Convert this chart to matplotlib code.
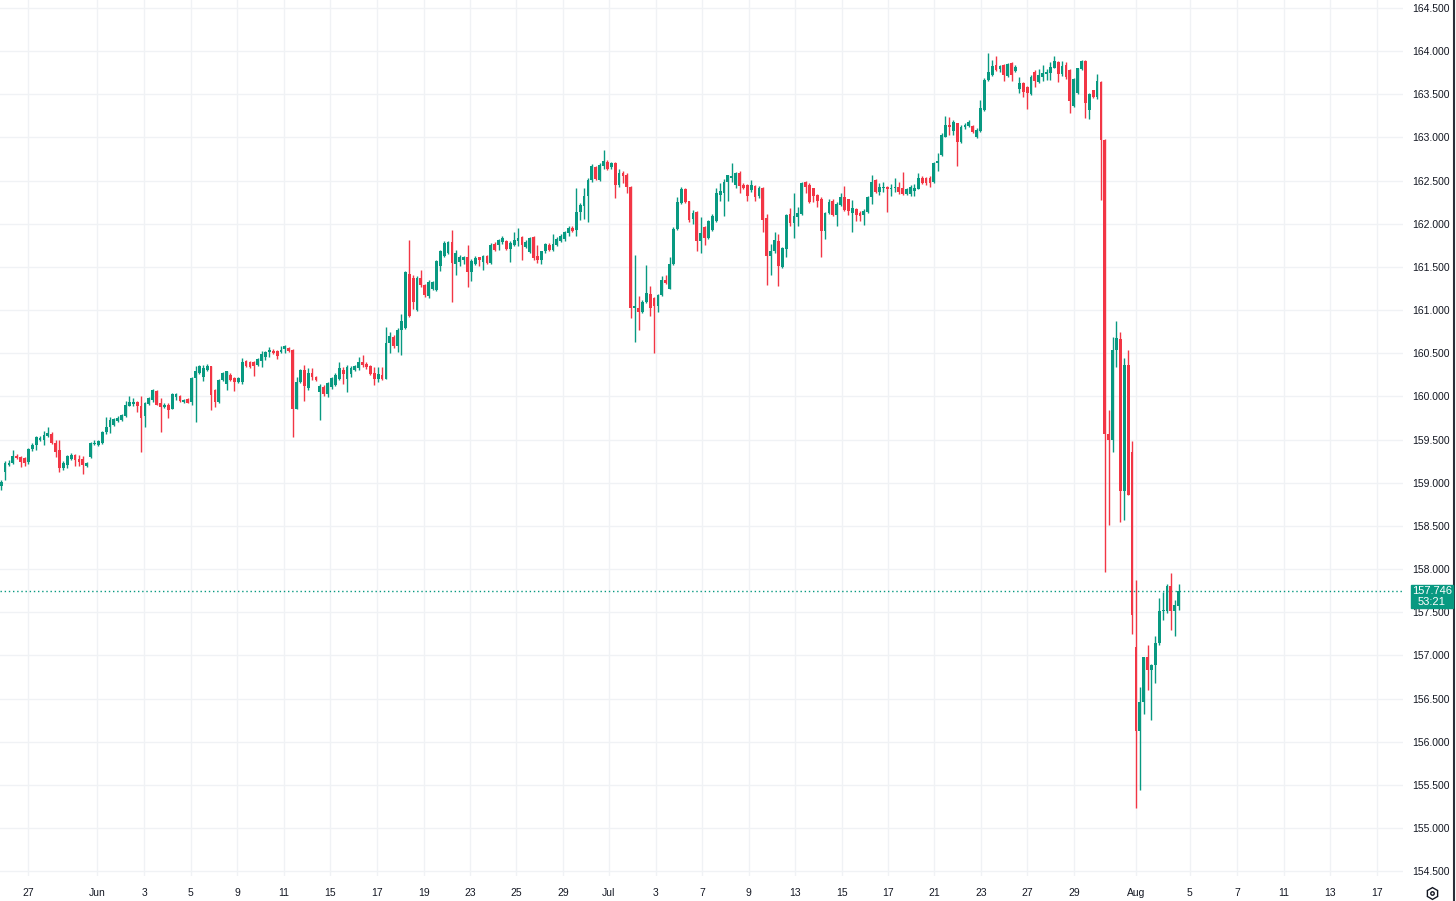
import numpy as np
import matplotlib.pyplot as plt
from matplotlib.lines import Line2D
from matplotlib.patches import Rectangle

plt.rcParams['font.family'] = ['Liberation Sans', 'DejaVu Sans']

# 4h candles
opens = [
    158.96, 159.12, 159.21, 159.23, 159.31, 159.30, 159.29, 159.24, 159.39, 159.44,
    159.50, 159.50, 159.54, 159.57, 159.46, 159.38, 159.17, 159.21, 159.28, 159.32,
    159.28, 159.28, 159.20, 159.30, 159.45, 159.44, 159.46, 159.59, 159.65, 159.67,
    159.72, 159.73, 159.77, 159.89, 159.91, 159.94, 159.89, 159.77, 159.91, 159.96,
    160.06, 159.92, 159.88, 159.90, 159.86, 159.99, 160.01, 159.94, 159.97, 159.94,
    160.21, 160.27, 160.22, 160.31, 160.35, 160.07, 159.94, 160.19, 160.15, 160.25,
    160.21, 160.17, 160.17, 160.41, 160.40, 160.40, 160.36, 160.41, 160.46, 160.51,
    160.53, 160.53, 160.52, 160.55, 160.56, 160.54, 159.86, 160.17, 160.31, 160.10,
    160.27, 160.23, 160.05, 160.11, 160.03, 160.11, 160.13, 160.20, 160.31, 160.20,
    160.26, 160.31, 160.33, 160.40, 160.38, 160.35, 160.27, 160.20, 160.25, 160.20,
    160.62, 160.69, 160.59, 160.77, 160.79, 161.42, 161.37, 161.00, 161.37, 161.29,
    161.16, 161.24, 161.23, 161.51, 161.63, 161.66, 161.79, 161.53, 161.56, 161.58,
    161.62, 161.44, 161.54, 161.61, 161.56, 161.63, 161.55, 161.77, 161.75, 161.79,
    161.80, 161.71, 161.75, 161.80, 161.85, 161.73, 161.67, 161.85, 161.63, 161.58,
    161.68, 161.76, 161.70, 161.75, 161.80, 161.82, 161.89, 161.95, 161.93, 162.14,
    162.21, 162.32, 162.51, 162.66, 162.51, 162.67, 162.72, 162.66, 162.70, 162.45,
    162.59, 162.57, 162.43, 161.03, 161.03, 160.98, 161.10, 161.19, 161.14, 161.05,
    161.17, 161.35, 161.25, 161.53, 161.94, 162.24, 162.40, 162.26, 162.06, 162.14,
    161.80, 161.96, 161.84, 161.93, 162.03, 162.33, 162.36, 162.49, 162.53, 162.45,
    162.59, 162.45, 162.45, 162.39, 162.44, 162.32, 162.42, 162.07, 161.63, 161.68,
    161.80, 161.50, 161.71, 162.11, 162.01, 162.08, 162.11, 162.48, 162.45, 162.41,
    162.33, 162.29, 161.92, 162.12, 162.27, 162.10, 162.22, 162.31, 162.29, 162.13,
    162.17, 162.13, 162.10, 162.14, 162.31, 162.51, 162.37, 162.41, 162.43, 162.40,
    162.41, 162.43, 162.41, 162.34, 162.34, 162.38, 162.40, 162.53, 162.53, 162.53,
    162.48, 162.70, 162.80, 163.01, 163.15, 163.08, 163.17, 162.95, 163.12, 163.13,
    163.13, 163.01, 163.07, 163.32, 163.67, 163.72, 163.84, 163.79, 163.84, 163.71,
    163.86, 163.77, 163.56, 163.63, 163.59, 163.50, 163.76, 163.64, 163.70, 163.74,
    163.75, 163.81, 163.88, 163.74, 163.84, 163.78, 163.37, 163.51, 163.79, 163.89,
    163.32, 163.55, 163.47, 163.64, 162.97, 159.57, 159.50, 160.54, 160.67, 158.91,
    160.37, 159.36, 157.10, 156.12, 156.46, 156.98, 156.83, 156.89, 157.14, 157.51,
    157.51, 157.80, 157.52, 157.57,
]
highs = [
    159.03, 159.25, 159.26, 159.38, 159.33, 159.31, 159.30, 159.40, 159.46, 159.54,
    159.54, 159.60, 159.65, 159.59, 159.50, 159.50, 159.25, 159.32, 159.34, 159.33,
    159.32, 159.31, 159.24, 159.47, 159.50, 159.50, 159.60, 159.76, 159.76, 159.75,
    159.77, 159.80, 159.95, 160.00, 159.98, 159.95, 160.00, 159.94, 159.99, 160.09,
    160.07, 159.98, 159.92, 159.92, 160.04, 160.04, 160.02, 159.97, 159.98, 160.23,
    160.35, 160.37, 160.36, 160.38, 160.35, 160.09, 160.20, 160.28, 160.29, 160.27,
    160.23, 160.22, 160.44, 160.42, 160.41, 160.41, 160.44, 160.53, 160.53, 160.57,
    160.55, 160.54, 160.58, 160.60, 160.57, 160.55, 160.23, 160.32, 160.36, 160.33,
    160.33, 160.24, 160.15, 160.13, 160.17, 160.23, 160.27, 160.40, 160.34, 160.36,
    160.35, 160.37, 160.46, 160.48, 160.40, 160.36, 160.34, 160.34, 160.34, 160.80,
    160.75, 160.71, 160.79, 160.96, 161.45, 161.81, 161.41, 161.39, 161.47, 161.30,
    161.35, 161.34, 161.58, 161.70, 161.80, 161.80, 161.93, 161.70, 161.64, 161.63,
    161.75, 161.59, 161.63, 161.62, 161.64, 161.64, 161.78, 161.79, 161.83, 161.86,
    161.81, 161.80, 161.90, 161.95, 161.86, 161.81, 161.85, 161.86, 161.75, 161.69,
    161.78, 161.78, 161.88, 161.85, 161.88, 161.92, 161.98, 161.98, 162.42, 162.24,
    162.42, 162.53, 162.69, 162.67, 162.71, 162.85, 162.74, 162.72, 162.72, 162.63,
    162.61, 162.59, 162.44, 161.64, 161.16, 161.12, 161.52, 161.28, 161.15, 161.19,
    161.40, 161.41, 161.61, 161.96, 162.31, 162.43, 162.41, 162.27, 162.16, 162.15,
    162.08, 161.97, 162.04, 162.11, 162.41, 162.47, 162.52, 162.57, 162.70, 162.60,
    162.61, 162.47, 162.46, 162.51, 162.45, 162.44, 162.43, 162.11, 161.77, 161.90,
    161.88, 161.73, 162.11, 162.18, 162.36, 162.20, 162.49, 162.50, 162.47, 162.42,
    162.34, 162.31, 162.14, 162.29, 162.29, 162.25, 162.36, 162.44, 162.29, 162.28,
    162.18, 162.15, 162.17, 162.32, 162.57, 162.52, 162.47, 162.48, 162.44, 162.46,
    162.53, 162.49, 162.60, 162.41, 162.45, 162.46, 162.59, 162.55, 162.54, 162.55,
    162.72, 162.82, 163.05, 163.25, 163.24, 163.20, 163.17, 163.14, 163.17, 163.20,
    163.14, 163.11, 163.43, 163.69, 163.98, 163.90, 163.94, 163.84, 163.85, 163.86,
    163.87, 163.84, 163.70, 163.64, 163.60, 163.72, 163.78, 163.79, 163.84, 163.79,
    163.87, 163.94, 163.89, 163.89, 163.87, 163.79, 163.69, 163.81, 163.90, 163.90,
    163.52, 163.55, 163.74, 163.65, 162.98, 159.84, 160.69, 160.88, 160.75, 160.45,
    160.54, 159.49, 157.87, 156.64, 156.98, 157.12, 156.90, 157.22, 157.66, 157.74,
    157.83, 157.95, 157.64, 157.83,
]
lows = [
    158.92, 159.03, 159.19, 159.22, 159.28, 159.18, 159.19, 159.22, 159.37, 159.38,
    159.49, 159.44, 159.53, 159.45, 159.30, 159.12, 159.15, 159.17, 159.27, 159.19,
    159.19, 159.10, 159.18, 159.29, 159.44, 159.43, 159.45, 159.57, 159.58, 159.66,
    159.70, 159.72, 159.76, 159.89, 159.89, 159.82, 159.36, 159.65, 159.90, 159.94,
    159.90, 159.59, 159.87, 159.75, 159.85, 159.96, 159.94, 159.93, 159.92, 159.90,
    159.71, 160.26, 160.18, 160.29, 159.84, 159.88, 159.93, 160.18, 160.08, 160.18,
    160.06, 160.16, 160.15, 160.34, 160.33, 160.24, 160.35, 160.34, 160.42, 160.46,
    160.49, 160.43, 160.50, 160.50, 160.52, 159.53, 159.85, 160.16, 159.95, 160.08,
    160.19, 160.18, 159.73, 160.00, 159.99, 160.09, 160.12, 160.19, 160.15, 160.05,
    160.23, 160.30, 160.31, 160.34, 160.32, 160.25, 160.13, 160.17, 160.19, 160.20,
    160.50, 160.56, 160.52, 160.48, 160.78, 160.92, 161.01, 160.99, 161.27, 161.15,
    161.14, 161.23, 161.22, 161.45, 161.62, 161.65, 161.09, 161.41, 161.51, 161.54,
    161.27, 161.34, 161.52, 161.51, 161.47, 161.54, 161.54, 161.68, 161.70, 161.77,
    161.70, 161.56, 161.74, 161.74, 161.58, 161.72, 161.66, 161.58, 161.55, 161.54,
    161.66, 161.69, 161.69, 161.74, 161.79, 161.80, 161.86, 161.90, 161.86, 162.05,
    162.06, 162.02, 162.49, 162.51, 162.50, 162.64, 162.62, 162.64, 162.30, 162.43,
    162.47, 162.36, 160.91, 160.63, 160.77, 160.97, 161.08, 160.93, 160.50, 160.98,
    161.16, 161.30, 161.24, 161.52, 161.93, 162.23, 162.24, 162.02, 162.00, 161.68,
    161.66, 161.76, 161.83, 161.92, 162.02, 162.26, 162.09, 162.26, 162.49, 162.42,
    162.36, 162.40, 162.26, 162.37, 162.26, 162.30, 161.90, 161.29, 161.41, 161.66,
    161.28, 161.49, 161.62, 161.97, 161.84, 161.98, 162.10, 162.36, 162.24, 162.25,
    162.19, 161.61, 161.83, 162.11, 162.09, 161.98, 162.21, 162.15, 162.10, 161.90,
    162.03, 162.03, 161.99, 162.13, 162.23, 162.36, 162.33, 162.37, 162.14, 162.32,
    162.37, 162.34, 162.33, 162.33, 162.32, 162.32, 162.40, 162.46, 162.45, 162.43,
    162.47, 162.61, 162.79, 163.00, 163.03, 163.03, 162.67, 162.94, 163.10, 163.12,
    163.05, 162.99, 163.06, 163.31, 163.65, 163.71, 163.77, 163.76, 163.66, 163.70,
    163.65, 163.76, 163.52, 163.47, 163.33, 163.49, 163.59, 163.63, 163.66, 163.67,
    163.67, 163.80, 163.64, 163.71, 163.68, 163.28, 163.35, 163.50, 163.78, 163.23,
    163.22, 163.46, 163.45, 162.28, 157.97, 158.51, 159.36, 160.34, 158.55, 158.57,
    158.86, 157.25, 155.23, 155.44, 156.32, 156.60, 156.25, 156.68, 157.12, 157.41,
    157.49, 157.30, 157.22, 157.53,
]
closes = [
    159.01, 159.23, 159.23, 159.31, 159.29, 159.24, 159.23, 159.39, 159.44, 159.53,
    159.52, 159.55, 159.58, 159.46, 159.36, 159.17, 159.23, 159.31, 159.32, 159.26,
    159.24, 159.21, 159.23, 159.46, 159.46, 159.48, 159.59, 159.65, 159.73, 159.74,
    159.75, 159.79, 159.90, 159.94, 159.94, 159.89, 159.75, 159.92, 159.98, 160.07,
    159.90, 159.88, 159.90, 159.84, 160.03, 160.03, 159.95, 159.96, 159.93, 160.21,
    160.29, 160.35, 160.33, 160.35, 160.02, 159.94, 160.19, 160.27, 160.29, 160.19,
    160.17, 160.21, 160.40, 160.35, 160.34, 160.35, 160.43, 160.49, 160.52, 160.54,
    160.50, 160.47, 160.54, 160.58, 160.53, 159.86, 160.17, 160.31, 160.12, 160.27,
    160.23, 160.19, 160.12, 160.03, 160.16, 160.21, 160.25, 160.33, 160.26, 160.34,
    160.33, 160.35, 160.40, 160.36, 160.34, 160.26, 160.20, 160.26, 160.20, 160.62,
    160.70, 160.58, 160.77, 160.87, 161.44, 160.93, 161.10, 161.37, 161.29, 161.17,
    161.33, 161.33, 161.57, 161.68, 161.78, 161.79, 161.55, 161.66, 161.61, 161.62,
    161.44, 161.57, 161.60, 161.58, 161.63, 161.55, 161.76, 161.70, 161.81, 161.84,
    161.71, 161.78, 161.81, 161.84, 161.76, 161.79, 161.84, 161.60, 161.58, 161.68,
    161.77, 161.70, 161.77, 161.83, 161.86, 161.90, 161.95, 161.92, 162.14, 162.22,
    162.32, 162.51, 162.67, 162.52, 162.68, 162.73, 162.63, 162.70, 162.45, 162.59,
    162.55, 162.43, 161.03, 161.05, 160.98, 161.10, 161.20, 161.03, 161.05, 161.18,
    161.35, 161.32, 161.54, 161.94, 162.25, 162.40, 162.25, 162.05, 162.13, 161.80,
    161.89, 161.84, 162.03, 162.09, 162.36, 162.38, 162.49, 162.57, 162.55, 162.59,
    162.44, 162.42, 162.32, 162.45, 162.31, 162.41, 162.05, 161.63, 161.69, 161.81,
    161.51, 161.72, 162.10, 162.01, 162.09, 162.13, 162.47, 162.43, 162.25, 162.32,
    162.27, 161.92, 162.12, 162.25, 162.10, 162.23, 162.31, 162.16, 162.15, 162.18,
    162.10, 162.09, 162.15, 162.31, 162.49, 162.37, 162.43, 162.43, 162.40, 162.42,
    162.43, 162.37, 162.34, 162.40, 162.43, 162.42, 162.53, 162.47, 162.47, 162.47,
    162.70, 162.73, 163.03, 163.15, 163.12, 163.18, 162.95, 163.12, 163.15, 163.18,
    163.06, 163.09, 163.34, 163.67, 163.76, 163.83, 163.78, 163.83, 163.72, 163.85,
    163.72, 163.82, 163.63, 163.53, 163.51, 163.70, 163.66, 163.72, 163.75, 163.76,
    163.82, 163.89, 163.74, 163.83, 163.70, 163.42, 163.68, 163.80, 163.89, 163.40,
    163.50, 163.47, 163.65, 162.97, 159.57, 159.50, 160.54, 160.68, 158.91, 160.37,
    158.86, 157.47, 156.12, 156.46, 156.98, 156.83, 156.89, 157.14, 157.51, 157.53,
    157.80, 157.52, 157.58, 157.746,
]

last_price = 157.746
countdown = '53:21'

# time axis labels and the candle slot they sit on
tick_labels = ['27', 'Jun', '3', '5', '9', '11', '15', '17', '19', '23', '25', '29',
               'Jul', '3', '7', '9', '13', '15', '17', '21', '23', '27', '29',
               'Aug', '5', '7', '11', '13', '17']
tick_slots = [6.9, 24.7, 36.8, 48.8, 60.7, 72.8, 84.6, 96.7, 108.8, 120.6, 132.5, 144.6,
              156.4, 168.5, 180.3, 192.4, 204.3, 216.4, 228.2, 240.0, 252.1, 264.0, 276.1,
              292.0, 305.9, 318.0, 330.1, 342.0, 354.0]

UP = '#089981'
DOWN = '#f23645'
TXT = '#131722'
GRID = '#f0f2f5'

W, H = 1456, 901
fig = plt.figure(figsize=(W / 100, H / 100), dpi=100)
plot_right, plot_bottom = 1403, 876
ax = fig.add_axes([0, 1 - plot_bottom / H, plot_right / W, plot_bottom / H])

o = np.array(opens)
h = np.array(highs)
l = np.array(lows)
c = np.array(closes)
x = np.arange(len(c))
cols = np.where(c >= o, UP, DOWN)

ax.vlines(x, np.minimum(l, np.minimum(o, c)), np.maximum(h, np.maximum(o, c)),
          colors=cols, lw=1, zorder=3)
body = c - o
body = np.where(np.abs(body) < 0.012, np.where(body >= 0, 0.012, -0.012), body)
ax.bar(x, body, bottom=o, width=0.72, color=cols, lw=0, zorder=4)

ax.axhline(last_price, color=UP, lw=1, ls=(0, (1, 2)), zorder=2)

# pixel scale: first candle at 1.2px, 3.886px per candle, 86.33px per 1.0 in price
px_per_bar = 3.886
px_per_unit = 86.33
ax.set_xlim(-1.2 / px_per_bar, (plot_right - 1.2) / px_per_bar)
ytop = 164.5 + 8 / px_per_unit
ax.set_ylim(ytop - plot_bottom / px_per_unit, ytop)

ax.set_xticks(tick_slots)
ax.set_xticklabels(tick_labels)
yt = np.arange(154.5, 164.51, 0.5)
ax.set_yticks(yt)
ax.set_yticklabels([f'{v:.3f}' for v in yt])
ax.yaxis.tick_right()
ax.tick_params(axis='both', length=0, labelsize=7.5, colors=TXT)
ax.tick_params(axis='y', pad=6.5)
ax.tick_params(axis='x', pad=9)
ax.grid(True, color=GRID, lw=1, zorder=0)
for s in ax.spines.values():
    s.set_visible(False)

# last price tag on the scale
fig.add_artist(Rectangle((1411 / W, 1 - 608 / H), 42 / W, 23 / H,
                         transform=fig.transFigure, color=UP, zorder=5))
fig.text(1432 / W, 1 - 591 / H, f'{last_price:.3f}', color='white', fontsize=8,
         ha='center', va='center', zorder=6)
fig.text(1432 / W, 1 - 602 / H, countdown, color='white', fontsize=8,
         ha='center', va='center', zorder=6)

# settings icon and the window edge
fig.add_artist(Line2D([1432 / W], [1 - 893 / H], marker='h', markersize=8.5,
                      markerfacecolor='none', markeredgecolor=TXT, mew=1,
                      transform=fig.transFigure))
fig.add_artist(Line2D([1432 / W], [1 - 893 / H], marker='o', markersize=2.5,
                      markerfacecolor='none', markeredgecolor=TXT, mew=1,
                      transform=fig.transFigure))
fig.add_artist(Line2D([1454 / W, 1454 / W], [0, 1], color='#2a2e39', lw=1.5,
                      transform=fig.transFigure))

fig.savefig('out.png', dpi=100)
